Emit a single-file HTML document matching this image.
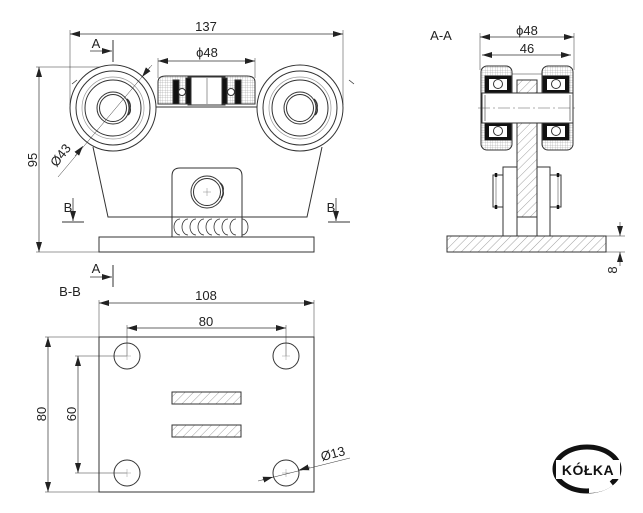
<!DOCTYPE html>
<html><head><meta charset="utf-8"><style>
html,body{margin:0;padding:0;background:#fff;width:643px;height:513px;overflow:hidden}
text{font-family:"Liberation Sans",sans-serif;fill:#222}
</style></head><body>
<svg width="643" height="513" viewBox="0 0 643 513" xmlns="http://www.w3.org/2000/svg">
<defs>
<marker id="ar" viewBox="0 0 10 6" refX="10" refY="3" markerWidth="10" markerHeight="6" markerUnits="userSpaceOnUse" orient="auto-start-reverse"><path d="M0,0L10,3L0,6z" fill="#222"/></marker>
<pattern id="hat" width="6" height="6" patternUnits="userSpaceOnUse" patternTransform="rotate(45)"><line x1="0" y1="0" x2="0" y2="6" stroke="#777" stroke-width="0.7"/></pattern>
<pattern id="mesh" width="2.5" height="2.5" patternUnits="userSpaceOnUse"><path d="M0,0H2.5M0,0V2.5" stroke="#999" stroke-width="0.5"/></pattern>
</defs>
<g fill="none" stroke="#333" stroke-width="1">
<line x1="70" y1="34" x2="343" y2="34" stroke-width="0.7" marker-start="url(#ar)" marker-end="url(#ar)"/>
<line x1="70" y1="30" x2="70" y2="105" stroke-width="0.5"/>
<line x1="343" y1="30" x2="343" y2="105" stroke-width="0.5"/>
<line x1="158" y1="61" x2="255" y2="61" stroke-width="0.7" marker-start="url(#ar)" marker-end="url(#ar)"/>
<line x1="158" y1="58" x2="158" y2="78" stroke-width="0.5"/>
<line x1="255" y1="58" x2="255" y2="78" stroke-width="0.5"/>
<line x1="39" y1="67" x2="39" y2="252" stroke-width="0.7" marker-start="url(#ar)" marker-end="url(#ar)"/>
<line x1="36" y1="67" x2="110" y2="67" stroke-width="0.5"/>
<line x1="36" y1="252" x2="99" y2="252" stroke-width="0.5"/>
<line x1="113" y1="40" x2="113" y2="62"/>
<line x1="90" y1="51" x2="112" y2="51" stroke-width="0.8" marker-end="url(#ar)"/>
<line x1="113" y1="265" x2="113" y2="287"/>
<line x1="90" y1="277" x2="112" y2="277" stroke-width="0.8" marker-end="url(#ar)"/>
<line x1="62" y1="222" x2="84" y2="222"/>
<line x1="73" y1="198" x2="73" y2="221" stroke-width="0.8" marker-end="url(#ar)"/>
<line x1="328" y1="222" x2="350" y2="222"/>
<line x1="336" y1="198" x2="336" y2="221" stroke-width="0.8" marker-end="url(#ar)"/>
<path d="M93,147 L108,217 L307,217 L322,147"/>
<line x1="156" y1="107" x2="257" y2="107"/>
<path d="M77,80 L72,84 M349,80 L354,84" stroke-width="0.8"/>
<path d="M172,237 V176 Q172,168 180,168 H234 Q242,168 242,176 V237"/>
<circle cx="207" cy="192" r="16"/>
<circle cx="207" cy="192" r="13.5"/>
<path d="M203,192h8M207,188v8" stroke-width="0.5" stroke="#888"/>
<path d="M220,183 q4,3 3,8 q1,4 -2,7" stroke-width="1.5"/>
<g stroke-width="0.8">
<path d="M180,219 a6,8 0 0 0 0,16"/><path d="M188,219 a6,8 0 0 0 0,16"/><path d="M196,219 a6,8 0 0 0 0,16"/><path d="M204,219 a6,8 0 0 0 0,16"/><path d="M212,219 a6,8 0 0 0 0,16"/><path d="M220,219 a6,8 0 0 0 0,16"/><path d="M228,219 a6,8 0 0 0 0,16"/><path d="M236,219 a6,8 0 0 0 0,16"/><path d="M242,219 a6,8 0 0 1 0,16"/>
</g>
<rect x="99" y="237" width="215" height="15"/>
<g>
<circle cx="113" cy="108" r="43" fill="#fff"/>
<circle cx="113" cy="108" r="37"/>
<circle cx="113" cy="108" r="31" stroke="#999" stroke-width="0.7"/>
<circle cx="113" cy="108" r="28"/>
<circle cx="113" cy="108" r="16"/>
<circle cx="113" cy="108" r="13.5"/>
<path d="M127,99 q4,4 3,9 q1,4 -2,7" stroke-width="1.5"/>
<circle cx="300" cy="108" r="43" fill="#fff"/>
<circle cx="300" cy="108" r="37"/>
<circle cx="300" cy="108" r="31" stroke="#999" stroke-width="0.7"/>
<circle cx="300" cy="108" r="28"/>
<circle cx="300" cy="108" r="16"/>
<circle cx="300" cy="108" r="13.5"/>
<path d="M314,99 q4,4 3,9 q1,4 -2,7" stroke-width="1.5"/>
</g>
<line x1="58" y1="177" x2="152" y2="65" stroke-width="0.5"/>
<line x1="75" y1="156" x2="83" y2="146" stroke-width="0.5" marker-end="url(#ar)"/>
<line x1="150" y1="67" x2="142" y2="77" stroke-width="0.5" marker-end="url(#ar)"/>
<path d="M158,104 V82 Q158,76 166,76 H247 Q255,76 255,82 V104 Z" fill="url(#mesh)"/>
<rect x="188" y="77" width="37" height="28" fill="#fff"/>
<rect x="173" y="80" width="6" height="24" fill="#111"/>
<rect x="186" y="78" width="5" height="26" fill="#111"/>
<rect x="222" y="78" width="5" height="26" fill="#111"/>
<rect x="235" y="80" width="6" height="24" fill="#111"/>
<circle cx="182" cy="92" r="3.5" fill="#fff"/>
<circle cx="231" cy="92" r="3.5" fill="#fff"/>
<line x1="207" y1="78" x2="207" y2="104" stroke-width="0.5"/>

<line x1="480" y1="37" x2="574" y2="37" stroke-width="0.7" marker-start="url(#ar)" marker-end="url(#ar)"/>
<line x1="482" y1="55" x2="571" y2="55" stroke-width="0.7" marker-start="url(#ar)" marker-end="url(#ar)"/>
<line x1="480" y1="33" x2="480" y2="70" stroke-width="0.5"/>
<line x1="574" y1="33" x2="574" y2="70" stroke-width="0.5"/>
<rect x="481" y="66" width="31" height="84" rx="6" fill="url(#mesh)"/>
<rect x="542" y="66" width="31" height="84" rx="6" fill="url(#mesh)"/>
<line x1="512" y1="74" x2="542" y2="74" stroke-width="0.6"/>
<rect x="485" y="76" width="26" height="17" fill="#fff"/>
<rect x="543" y="76" width="26" height="17" fill="#fff"/>
<rect x="485" y="123" width="26" height="17" fill="#fff"/>
<rect x="543" y="123" width="26" height="17" fill="#fff"/>
<g fill="#111" stroke="none">
<rect x="485" y="76" width="26" height="3"/><rect x="485" y="90" width="26" height="3"/><rect x="485" y="76" width="4" height="17"/><rect x="507" y="76" width="4" height="17"/>
<rect x="543" y="76" width="26" height="3"/><rect x="543" y="90" width="26" height="3"/><rect x="543" y="76" width="4" height="17"/><rect x="565" y="76" width="4" height="17"/>
<rect x="485" y="123" width="26" height="3"/><rect x="485" y="137" width="26" height="3"/><rect x="485" y="123" width="4" height="17"/><rect x="507" y="123" width="4" height="17"/>
<rect x="543" y="123" width="26" height="3"/><rect x="543" y="137" width="26" height="3"/><rect x="543" y="123" width="4" height="17"/><rect x="565" y="123" width="4" height="17"/>
</g>
<circle cx="498" cy="84" r="4.5" fill="#fff"/><circle cx="556" cy="84" r="4.5" fill="#fff"/>
<circle cx="498" cy="131" r="4.5" fill="#fff"/><circle cx="556" cy="131" r="4.5" fill="#fff"/>
<rect x="482" y="93" width="91" height="30" fill="#fff"/>
<line x1="485" y1="95" x2="485" y2="121" stroke-width="0.6"/>
<line x1="570" y1="95" x2="570" y2="121" stroke-width="0.6"/>
<line x1="478" y1="108" x2="577" y2="108" stroke-width="0.4" stroke-dasharray="12,3,2,3"/>
<rect x="517" y="80" width="20" height="13" fill="url(#hat)"/>
<rect x="517" y="123" width="20" height="94" fill="url(#hat)"/>
<rect x="503" y="167" width="14" height="69"/>
<rect x="537" y="167" width="13" height="69"/>
<rect x="493" y="175" width="10" height="32"/>
<rect x="550" y="175" width="11" height="32"/>
<line x1="496" y1="175" x2="496" y2="207" stroke-width="0.5"/>
<line x1="558" y1="175" x2="558" y2="207" stroke-width="0.5"/>
<path d="M496,173v4M496,205v4M558,173v4M558,205v4" stroke="#111" stroke-width="2.5"/>
<rect x="447" y="236" width="159" height="16" fill="url(#hat)"/>
<line x1="606" y1="236" x2="625" y2="236" stroke-width="0.5"/>
<line x1="606" y1="252" x2="625" y2="252" stroke-width="0.5"/>
<line x1="620" y1="222" x2="620" y2="236" stroke-width="0.6" marker-end="url(#ar)"/>
<line x1="620" y1="266" x2="620" y2="252" stroke-width="0.6" marker-end="url(#ar)"/>

<line x1="99" y1="303" x2="314" y2="303" stroke-width="0.7" marker-start="url(#ar)" marker-end="url(#ar)"/>
<line x1="99" y1="300" x2="99" y2="337" stroke-width="0.5"/>
<line x1="314" y1="300" x2="314" y2="337" stroke-width="0.5"/>
<line x1="127" y1="328" x2="286" y2="328" stroke-width="0.7" marker-start="url(#ar)" marker-end="url(#ar)"/>
<line x1="127" y1="325" x2="127" y2="356" stroke-width="0.5"/>
<line x1="286" y1="325" x2="286" y2="356" stroke-width="0.5"/>
<line x1="48" y1="337" x2="48" y2="492" stroke-width="0.7" marker-start="url(#ar)" marker-end="url(#ar)"/>
<line x1="45" y1="337" x2="99" y2="337" stroke-width="0.5"/>
<line x1="45" y1="492" x2="99" y2="492" stroke-width="0.5"/>
<line x1="78" y1="356" x2="78" y2="473" stroke-width="0.7" marker-start="url(#ar)" marker-end="url(#ar)"/>
<line x1="75" y1="356" x2="127" y2="356" stroke-width="0.5"/>
<line x1="75" y1="473" x2="127" y2="473" stroke-width="0.5"/>
<rect x="99" y="337" width="215" height="155"/>
<circle cx="127" cy="356" r="13"/><circle cx="286" cy="356" r="13"/>
<circle cx="127" cy="473" r="13"/><circle cx="286" cy="473" r="13"/>
<path d="M123,356h8M127,352v8M282,356h8M286,352v8M123,473h8M127,469v8M282,473h8M286,469v8" stroke="#999" stroke-width="0.5"/>
<rect x="172" y="392" width="69" height="12" fill="url(#hat)"/>
<rect x="172" y="425" width="69" height="12" fill="url(#hat)"/>
<line x1="258" y1="481" x2="350" y2="458" stroke-width="0.5"/>
<line x1="262" y1="480" x2="273" y2="477" stroke-width="0.6" marker-end="url(#ar)"/>
<line x1="310" y1="467" x2="299" y2="470" stroke-width="0.6" marker-end="url(#ar)"/>
</g>
<g font-size="13">
<text x="206" y="31" text-anchor="middle">137</text>
<text x="207" y="57" text-anchor="middle">ϕ48</text>
<text x="96" y="48" text-anchor="middle">A</text>
<text x="96" y="273" text-anchor="middle">A</text>
<text x="68" y="212" text-anchor="middle">B</text>
<text x="331" y="212" text-anchor="middle">B</text>
<text transform="translate(37,160) rotate(-90)" text-anchor="middle">95</text>
<text transform="translate(64,158) rotate(-52)" text-anchor="middle">Ø43</text>
<text x="441" y="40" text-anchor="middle">A-A</text>
<text x="527" y="35" text-anchor="middle">ϕ48</text>
<text x="527" y="53" text-anchor="middle">46</text>
<text transform="translate(617,270) rotate(-90)" text-anchor="middle">8</text>
<text x="70" y="296" text-anchor="middle">B-B</text>
<text x="206" y="300" text-anchor="middle">108</text>
<text x="206" y="326" text-anchor="middle">80</text>
<text transform="translate(46,414) rotate(-90)" text-anchor="middle">80</text>
<text transform="translate(76,414) rotate(-90)" text-anchor="middle">60</text>
<text transform="translate(334,458) rotate(-15)" text-anchor="middle">Ø13</text>
</g>
<ellipse cx="587" cy="469" rx="32" ry="22" fill="none" stroke="#111" stroke-width="5"/>
<rect x="556" y="460" width="64" height="19" fill="#fff"/>
<path d="M611,483 q-9,7 -22,7" stroke="#fff" stroke-width="6" fill="none"/>
<text x="588" y="475" text-anchor="middle" font-size="14" font-weight="bold" style="fill:#111;letter-spacing:0.5px">KÓŁKA</text>
</svg>
</body></html>
